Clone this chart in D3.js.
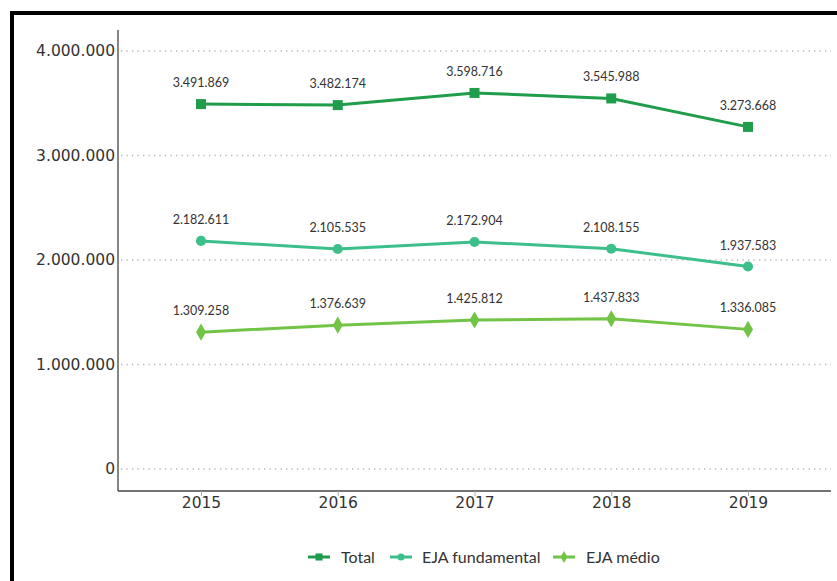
<!DOCTYPE html>
<html>
<head>
<meta charset="utf-8">
<script src="https://cdn.jsdelivr.net/npm/d3@7"></script>
<style>
  body { margin: 0; background: #fff; }
  svg { display: block; }
</style>
</head>
<body>
<div id="chart"></div>
<script>
// data
var years = ["2015", "2016", "2017", "2018", "2019"]
var total = [3491869, 3482174, 3598716, 3545988, 3273668]
var ejaFundamental = [2182611, 2105535, 2172904, 2108155, 1937583]
var ejaMedio = [1309258, 1376639, 1425812, 1437833, 1336085]
var yTicks = [0, 1000000, 2000000, 3000000, 4000000]

var series = [
    { name: "Total", values: total, color: "#1f9d4b", symbol: d3.symbolSquare, size: 100 },
    { name: "EJA fundamental", values: ejaFundamental, color: "#3dbf8b", symbol: d3.symbolCircle, size: 80 },
    { name: "EJA médio", values: ejaMedio, color: "#71c445", symbol: d3.symbolDiamond, size: 85 }
]

var width = 837
    height = 581

var ptbr = d3.formatLocale({ decimal: ",", thousands: ".", grouping: [3], currency: ["R$", ""] })
var fmt = ptbr.format(",d")

var svg = d3.select("#chart")
    .append("svg")
        .attr("width", width)
        .attr("height", height)

// black frame on top and left
svg.append("rect").attr("x", 10).attr("y", 11).attr("width", 827).attr("height", 4).attr("fill", "#000")
svg.append("rect").attr("x", 10).attr("y", 11).attr("width", 4).attr("height", 570).attr("fill", "#000")

var x = d3.scalePoint()
    .domain(years)
    .range([201, 748])

var y = d3.scaleLinear()
    .domain([0, 4000000])
    .range([469, 51])

var axisLeft = 118, axisRight = 831, axisBottom = 491

// gridlines
svg.selectAll("grid")
    .data(yTicks)
    .enter()
    .append("line")
        .attr("x1", axisLeft + 3)
        .attr("x2", axisRight)
        .attr("y1", function(d){ return y(d) })
        .attr("y2", function(d){ return y(d) })
        .attr("stroke", "#b8b8b8")
        .attr("stroke-width", 1.3)
        .attr("stroke-dasharray", "1.3,4.2")

// y tick labels
svg.selectAll("ylab")
    .data(yTicks)
    .enter()
    .append("text")
        .attr("x", axisLeft - 3)
        .attr("y", function(d){ return y(d) + 5 })
        .attr("text-anchor", "end")
        .attr("font-family", "DejaVu Sans")
        .attr("font-size", "15.5px")
        .attr("fill", "#333")
        .text(function(d){ return fmt(d) })

// axis lines
svg.append("line").attr("x1", axisLeft).attr("x2", axisLeft).attr("y1", 30).attr("y2", axisBottom)
    .attr("stroke", "#444").attr("stroke-width", 1.3)
svg.append("line").attr("x1", axisLeft).attr("x2", axisRight).attr("y1", axisBottom).attr("y2", axisBottom)
    .attr("stroke", "#444").attr("stroke-width", 1.3)

// x ticks + labels
var xAxis = svg.append("g")
    .attr("transform", "translate(0," + axisBottom + ")")
    .call(d3.axisBottom(x).tickSize(5).tickSizeOuter(0))
xAxis.select(".domain").remove()
xAxis.selectAll(".tick line").attr("stroke", "#aaa")
xAxis.selectAll(".tick text")
    .attr("font-family", "DejaVu Sans")
    .attr("font-size", "15.5px")
    .attr("fill", "#333")
    .attr("dy", "0.55em")

// lines
var line = d3.line()
    .x(function(d, i){ return x(years[i]) })
    .y(function(d){ return y(d) })

series.forEach(function(s) {
    svg.append("path")
        .datum(s.values)
        .attr("d", line)
        .attr("fill", "none")
        .attr("stroke", s.color)
        .attr("stroke-width", 3)

    svg.selectAll("pt")
        .data(s.values)
        .enter()
        .append("path")
            .attr("d", d3.symbol().type(s.symbol).size(s.size))
            .attr("transform", function(d, i){ return "translate(" + x(years[i]) + "," + y(d) + ")" })
            .attr("fill", s.color)

    svg.selectAll("vlab")
        .data(s.values)
        .enter()
        .append("text")
            .attr("x", function(d, i){ return x(years[i]) })
            .attr("y", function(d){ return y(d) - 17 })
            .attr("text-anchor", "middle")
            .attr("font-family", "Lato")
            .attr("font-size", "12.5px")
            .attr("fill", "#333")
            .text(function(d){ return fmt(d) })
})

// legend
var legendX = [308, 390, 553]
var legend = svg.selectAll("legend")
    .data(series)
    .enter()
    .append("g")
        .attr("transform", function(d, i){ return "translate(" + legendX[i] + ",557)" })
legend.append("line")
    .attr("x1", 0).attr("x2", 22)
    .attr("stroke", function(d){ return d.color })
    .attr("stroke-width", 3)
legend.append("path")
    .attr("d", function(d){ return d3.symbol().type(d.symbol).size(d.size * 0.5)() })
    .attr("transform", "translate(11,0)")
    .attr("fill", function(d){ return d.color })
legend.append("text")
    .attr("x", function(d, i){ return i == 1 ? 32 : 33 })
    .attr("y", 5.5)
    .attr("font-family", "Lato")
    .attr("font-size", "16px")
    .attr("fill", "#333")
    .text(function(d){ return d.name })
</script>
</body>
</html>
